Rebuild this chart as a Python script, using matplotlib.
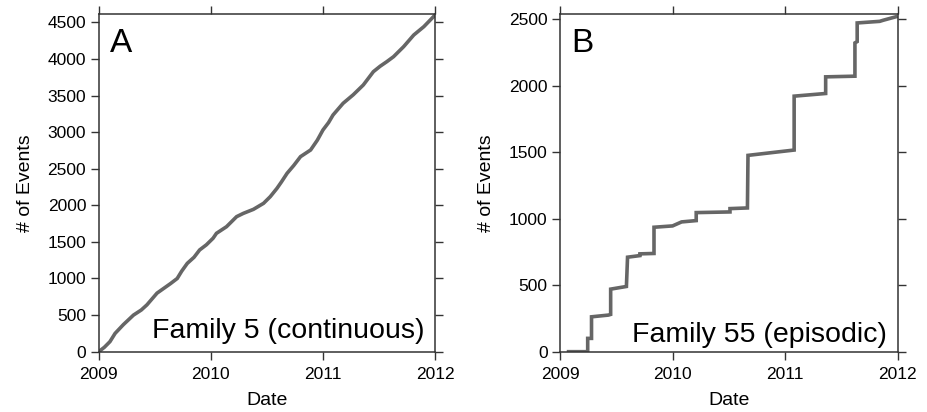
import numpy as np
import matplotlib.pyplot as plt

plt.rcParams['font.family'] = ['Liberation Sans', 'DejaVu Sans']

# Family 5 (continuous) - cumulative count vs decimal year
fam5_year = [2009.00, 2009.05, 2009.10, 2009.146, 2009.22, 2009.31, 2009.38, 2009.43,
             2009.52, 2009.58, 2009.64, 2009.70, 2009.74, 2009.79, 2009.85, 2009.90,
             2009.96, 2010.02, 2010.05, 2010.14, 2010.23, 2010.29, 2010.38, 2010.47,
             2010.53, 2010.59, 2010.63, 2010.68, 2010.74, 2010.80, 2010.89, 2010.95,
             2011.00, 2011.05, 2011.09, 2011.18, 2011.27, 2011.36, 2011.45, 2011.51,
             2011.57, 2011.63, 2011.72, 2011.81, 2011.90, 2011.95, 2012.00]
fam5_count = [0, 60, 137, 250, 370, 500, 570, 640,
              800, 865, 930, 1000, 1100, 1207, 1290, 1390,
              1460, 1550, 1617, 1708, 1845, 1890, 1945, 2027,
              2118, 2232, 2320, 2437, 2545, 2665, 2756, 2890,
              3029, 3130, 3234, 3394, 3510, 3644, 3826, 3900,
              3963, 4031, 4168, 4327, 4441, 4520, 4600]

# Family 55 (episodic) - step-like cumulative count
fam55_year = [2009.06, 2009.246, 2009.246, 2009.28, 2009.28, 2009.43, 2009.45,
              2009.45, 2009.59, 2009.60, 2009.71, 2009.71, 2009.835, 2009.835,
              2010.00, 2010.08, 2010.21, 2010.21, 2010.51, 2010.51, 2010.665, 2010.67,
              2010.925, 2011.08, 2011.08, 2011.36, 2011.36, 2011.62, 2011.62,
              2011.64, 2011.64, 2011.84, 2011.87, 2012.00]
fam55_count = [0, 0, 100, 100, 262, 275, 280,
               470, 490, 710, 722, 735, 738, 935,
               945, 975, 985, 1045, 1050, 1075, 1080, 1475,
               1500, 1515, 1920, 1940, 2065, 2070, 2320,
               2330, 2470, 2482, 2490, 2520]

years = [2009, 2010, 2011, 2012]
line_color = '#666666'

fig = plt.figure(figsize=(9.27, 4.12), dpi=100)
axA = fig.add_axes([0.1065, 0.1464, 0.3628, 0.8189])
axB = fig.add_axes([0.6041, 0.1464, 0.3643, 0.8189])

panels = [
    (axA, fam5_year, fam5_count, 4610, np.arange(0, 4501, 500), 'A', 'Family 5 (continuous)', 0.041),
    (axB, fam55_year, fam55_count, 2535, np.arange(0, 2501, 500), 'B', 'Family 55 (episodic)', 0.030),
]

for ax, x, y, ymax, yt, letter, label, ly in panels:
    ax.plot(x, y, color=line_color, lw=2.6, solid_capstyle='butt', solid_joinstyle='miter')
    ax.set_xlim(2009, 2012)
    ax.set_ylim(0, ymax)
    ax.set_xticks(years)
    ax.set_xticklabels([str(v) for v in years])
    ax.set_yticks(yt)
    ax.tick_params(direction='out', length=6, width=1, colors='#333333',
                   labelcolor='black', labelsize=12.5, top=True, right=True, pad=3)
    ax.tick_params(axis='x', pad=5)
    for s in ax.spines.values():
        s.set_linewidth(1.1)
        s.set_color('#333333')
    ax.set_xlabel('Date', fontsize=14, labelpad=7)
    ax.set_ylabel('# of Events', fontsize=14, labelpad=10)
    ax.text(0.034, 0.888, letter, transform=ax.transAxes, fontsize=24,
            ha='left', va='baseline')
    ax.text(0.968, ly, label, transform=ax.transAxes, fontsize=20.5,
            ha='right', va='baseline')

fig.savefig('out.png', dpi=100)
